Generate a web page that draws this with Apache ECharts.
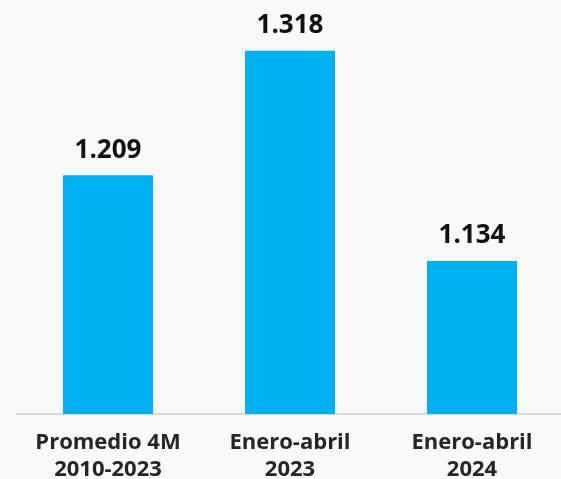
<!DOCTYPE html>
<html>
<head>
<meta charset="utf-8">
<script src="https://cdn.jsdelivr.net/npm/echarts@6/dist/echarts.min.js"></script>
<style>
  html, body { margin: 0; padding: 0; background: #f9f9f9; }
  #chart { width: 561px; height: 479px; }
</style>
</head>
<body>
<div id="chart"></div>
<script>
// Chart data
const categories = ['Promedio 4M\n2010-2023', 'Enero-abril\n2023', 'Enero-abril\n2024'];
const values = [1.209, 1.318, 1.134];
const valueLabels = ['1.209', '1.318', '1.134'];

const chart = echarts.init(document.getElementById('chart'), null, { renderer: 'canvas' });

const option = {
  backgroundColor: '#f9f9f9',
  animation: false,
  grid: { left: 17, right: -2, top: 12, bottom: 65, outerBoundsMode: 'none', containLabel: false },
  xAxis: {
    type: 'category',
    data: categories,
    axisLine: { lineStyle: { color: '#d9d9d9', width: 2 } },
    axisTick: { show: false },
    axisLabel: {
      interval: 0,
      hideOverlap: false,
      color: '#262626',
      fontFamily: "'Open Sans', sans-serif",
      fontWeight: 'bold',
      fontSize: 22,
      lineHeight: 27,
      margin: 15,
    },
  },
  yAxis: {
    type: 'value',
    min: 1,
    max: 1.352,
    show: false,
    splitLine: { show: false },
  },
  series: [
    {
      type: 'bar',
      barWidth: 90,
      data: values,
      itemStyle: { color: '#00b0f0' },
      label: {
        show: true,
        position: 'top',
        distance: 12,
        color: '#111111',
        fontFamily: "'Open Sans', sans-serif",
        fontWeight: 'bold',
        fontSize: 26,
        formatter: (p) => valueLabels[p.dataIndex],
      },
    },
  ],
};

chart.setOption(option);
</script>
</body>
</html>
